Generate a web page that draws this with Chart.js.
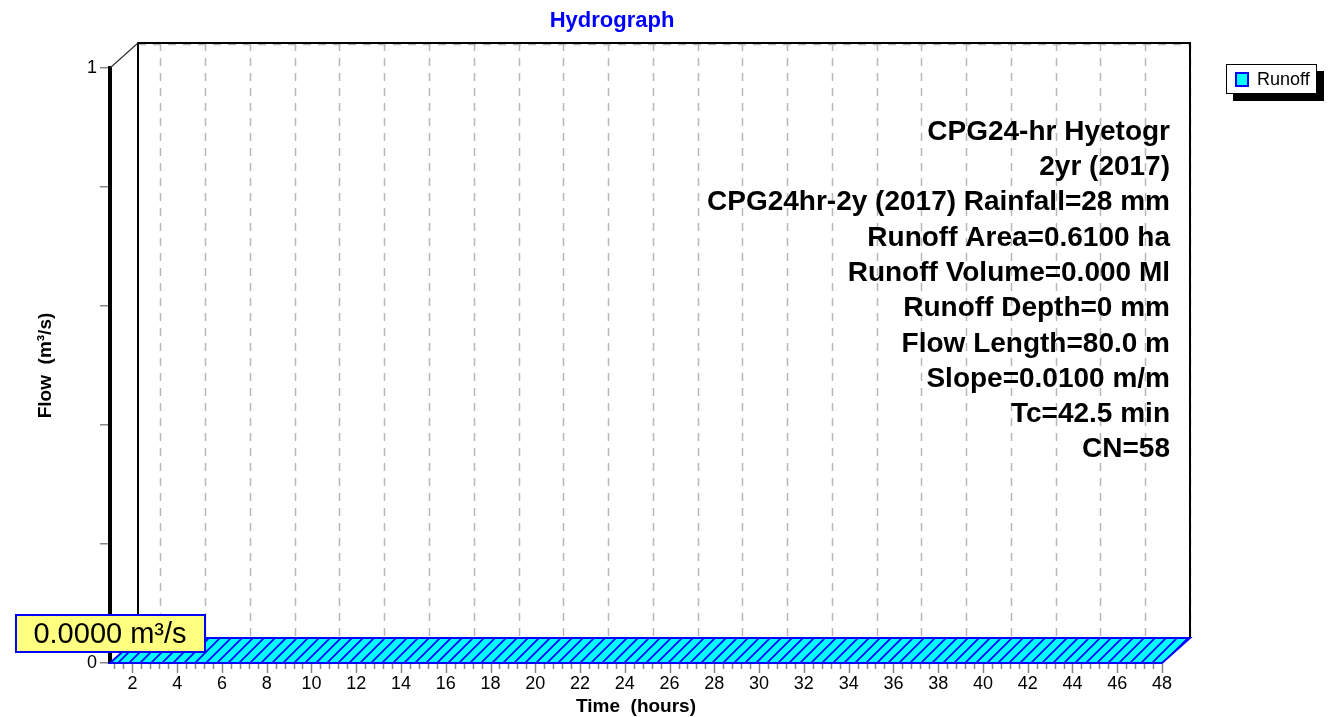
<!DOCTYPE html>
<html>
<head>
<meta charset="utf-8">
<title>Hydrograph</title>
<script src="https://cdn.jsdelivr.net/npm/chart.js@4/dist/chart.umd.min.js"></script>
<style>
  html, body { margin: 0; padding: 0; background: #fff; }
</style>
</head>
<body>
<canvas id="hydroChart" width="1333" height="717"></canvas>
<script>
// Runoff hydrograph data (hours, m³/s)
const times = [1, 6, 12, 18, 24, 30, 36, 42, 48];
const flows = [0, 0, 0, 0, 0, 0, 0, 0, 0];
const xTickLabels = [2, 4, 6, 8, 10, 12, 14, 16, 18, 20, 22, 24, 26, 28, 30, 32, 34, 36, 38, 40, 42, 44, 46, 48];
const yTickValues = [0, 0.2, 0.4, 0.6, 0.8, 1];
const yTickLabels = [0, 1];
const peakLabel = '0.0000 m³/s';
const infoLines = [
    'CPG24-hr Hyetogr',
    '2yr (2017)',
    'CPG24hr-2y (2017) Rainfall=28 mm',
    'Runoff Area=0.6100 ha',
    'Runoff Volume=0.000 Ml',
    'Runoff Depth=0 mm',
    'Flow Length=80.0 m',
    'Slope=0.0100 m/m',
    'Tc=42.5 min',
    'CN=58'
];

const FONT = '"Liberation Sans", Arial, Helvetica, sans-serif';
const DX = 28, DY = 25; // 3D depth offset
Chart.defaults.font.family = FONT;

function makeHatch() {
    const c = document.createElement('canvas');
    c.width = 11; c.height = 11;
    const g = c.getContext('2d');
    g.fillStyle = '#00ffff';
    g.fillRect(0, 0, 11, 11);
    g.strokeStyle = '#0000ff';
    g.lineWidth = 1.7;
    g.beginPath();
    for (let k = -11; k <= 11; k += 11) {
        g.moveTo(k - 1, 12);
        g.lineTo(k + 12, -1);
    }
    g.stroke();
    return c;
}

const hydroPlugin = {
    id: 'hydro3d',
    beforeDatasetsDraw(chart) {
        const ctx = chart.ctx;
        const { left, right, top, bottom } = chart.chartArea;
        const xs = chart.scales.x;
        ctx.save();
        // back plane dashed grid
        ctx.strokeStyle = '#b8b8b8';
        ctx.lineWidth = 1.5;
        ctx.setLineDash([8, 7]);
        xTickLabels.forEach(h => {
            const px = Math.round(xs.getPixelForValue(h)) + DX + 0.5;
            ctx.beginPath();
            ctx.moveTo(px, top - DY);
            ctx.lineTo(px, bottom - DY);
            ctx.stroke();
        });
        ctx.beginPath();
        ctx.moveTo(left + DX, top - DY + 1.5);
        ctx.lineTo(right + DX, top - DY + 1.5);
        ctx.stroke();
        ctx.setLineDash([]);
        // back frame
        ctx.strokeStyle = '#000';
        ctx.lineWidth = 2;
        ctx.beginPath();
        ctx.moveTo(left + DX, bottom - DY);
        ctx.lineTo(left + DX, top - DY);
        ctx.lineTo(right + DX, top - DY);
        ctx.lineTo(right + DX, bottom - DY);
        ctx.stroke();
        ctx.lineWidth = 1.2;
        ctx.strokeStyle = '#333';
        ctx.beginPath();
        ctx.moveTo(left, top);
        ctx.lineTo(left + DX, top - DY);
        ctx.stroke();
        ctx.restore();
    },
    afterDatasetsDraw(chart) {
        const ctx = chart.ctx;
        const { bottom } = chart.chartArea;
        const xs = chart.scales.x;
        const ys = chart.scales.y;
        const pts = chart.getDatasetMeta(0).data;
        ctx.save();
        // extruded runoff ribbon
        const hatch = ctx.createPattern(makeHatch(), 'repeat');
        ctx.beginPath();
        pts.forEach((p, i) => i ? ctx.lineTo(p.x, p.y) : ctx.moveTo(p.x, p.y));
        for (let i = pts.length - 1; i >= 0; i--) ctx.lineTo(pts[i].x + DX, pts[i].y - DY);
        ctx.closePath();
        ctx.fillStyle = hatch;
        ctx.fill();
        ctx.strokeStyle = '#0000ff';
        ctx.lineWidth = 2;
        ctx.stroke();

        // x tick marks (major every 2 h, minor every 0.4 h)
        ctx.strokeStyle = '#888';
        ctx.lineWidth = 1.5;
        ctx.beginPath();
        for (let t = 1.2; t <= 48.001; t += 0.4) {
            const px = Math.round(xs.getPixelForValue(t)) + 0.5;
            ctx.moveTo(px, bottom + 1);
            ctx.lineTo(px, bottom + 6);
        }
        xTickLabels.forEach(h => {
            const px = Math.round(xs.getPixelForValue(h)) + 0.5;
            ctx.moveTo(px, bottom + 1);
            ctx.lineTo(px, bottom + 10);
        });
        ctx.stroke();

        // peak flow label
        const peak = Math.max(...flows);
        const by = ys.getPixelForValue(peak) - 11;
        ctx.fillStyle = '#ffff80';
        ctx.fillRect(16, by - 37, 189, 37);
        ctx.strokeStyle = '#0000ff';
        ctx.lineWidth = 2;
        ctx.strokeRect(16, by - 37, 189, 37);
        ctx.fillStyle = '#000';
        ctx.font = '29px ' + FONT;
        ctx.textAlign = 'center';
        ctx.textBaseline = 'middle';
        ctx.fillText(peakLabel, 110, by - 17);

        // info text block
        ctx.font = 'bold 28px ' + FONT;
        ctx.textAlign = 'right';
        infoLines.forEach((s, i) => ctx.fillText(s, 1170, 132 + i * 35.3));

        // title
        ctx.fillStyle = '#0000ff';
        ctx.font = 'bold 22px ' + FONT;
        ctx.textAlign = 'center';
        ctx.fillText('Hydrograph', 612, 21);

        // legend
        const ds = chart.data.datasets[0];
        ctx.fillStyle = '#000';
        ctx.fillRect(1233, 71, 91, 30);
        ctx.fillStyle = '#fff';
        ctx.fillRect(1226, 64, 91, 30);
        ctx.strokeStyle = '#000';
        ctx.lineWidth = 1;
        ctx.strokeRect(1226.5, 64.5, 90, 29);
        ctx.fillStyle = ds.backgroundColor;
        ctx.fillRect(1236, 73, 12, 13);
        ctx.strokeStyle = ds.borderColor;
        ctx.lineWidth = 2;
        ctx.strokeRect(1236, 73, 12, 13);
        ctx.fillStyle = '#000';
        ctx.font = '18px ' + FONT;
        ctx.textAlign = 'left';
        ctx.fillText(ds.label, 1257, 80);
        ctx.restore();
    }
};

new Chart(document.getElementById('hydroChart'), {
    type: 'line',
    data: {
        datasets: [{
            label: 'Runoff',
            data: times.map((t, i) => ({ x: t, y: flows[i] })),
            borderColor: '#0000ff',
            backgroundColor: '#00ffff',
            borderWidth: 2,
            pointRadius: 0,
            fill: false
        }]
    },
    options: {
        responsive: false,
        animation: false,
        devicePixelRatio: 1,
        layout: { padding: { left: 0, right: 171, top: 68, bottom: 0 } },
        plugins: { legend: { display: false }, tooltip: { enabled: false } },
        scales: {
            x: {
                type: 'linear',
                min: 1,
                max: 48,
                afterBuildTicks: s => { s.ticks = xTickLabels.map(v => ({ value: v })); },
                afterFit: s => { s.height = 54; },
                grid: { display: false, drawTicks: false },
                border: { display: false },
                ticks: { color: '#000', font: { size: 18 }, padding: 10, maxRotation: 0, autoSkip: false },
                title: { display: true, text: 'Time  (hours)', color: '#000', font: { size: 19, weight: 'bold' }, padding: { top: 0, bottom: -1 } }
            },
            y: {
                min: 0,
                max: 1,
                afterBuildTicks: s => { s.ticks = yTickValues.map(v => ({ value: v })); },
                afterFit: s => { s.width = 110; },
                grid: { display: true, drawOnChartArea: false, drawTicks: true, tickLength: 10, color: '#888', lineWidth: 1.5 },
                border: { display: true, color: '#000', width: 4 },
                ticks: { color: '#000', font: { size: 18 }, padding: 3, callback: v => yTickLabels.includes(v) ? v : '' },
                title: { display: true, text: 'Flow  (m³/s)', color: '#000', font: { size: 19, weight: 'bold' }, padding: { top: 34, bottom: 0 } }
            }
        }
    },
    plugins: [hydroPlugin]
});
</script>
</body>
</html>
